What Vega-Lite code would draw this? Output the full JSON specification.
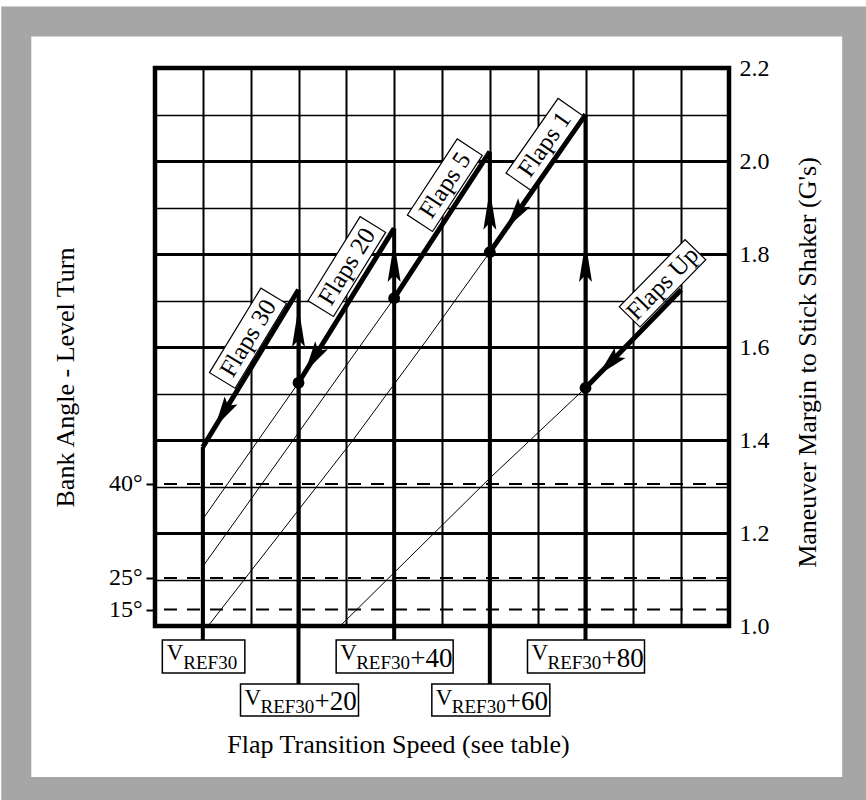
{
  "$schema": "https://vega.github.io/schema/vega-lite/v6.json",
  "width": 574,
  "height": 558,
  "autosize": {"type": "none"},
  "padding": {"left": 155, "top": 68, "right": 137, "bottom": 174},
  "background": "white",
  "config": {
    "font": "Liberation Serif",
    "text": {"font": "Liberation Serif", "color": "black"},
    "view": {"stroke": "black", "strokeWidth": 4.5},
    "axis": {
      "labelColor": "black", "titleColor": "black", "titleFontWeight": "normal",
      "titleFontSize": 26, "labelFontSize": 24, "labelFont": "Liberation Serif", "titleFont": "Liberation Serif"
    }
  },
  "datasets": {
    "flapLines": [
      {"flap": "Flaps 30", "part": "thick", "v": 0, "g": 1.385},
      {"flap": "Flaps 30", "part": "thick", "v": 20, "g": 1.723},
      {"flap": "Flaps 20", "part": "thick", "v": 20, "g": 1.523},
      {"flap": "Flaps 20", "part": "thick", "v": 40, "g": 1.855},
      {"flap": "Flaps 5", "part": "thick", "v": 40, "g": 1.705},
      {"flap": "Flaps 5", "part": "thick", "v": 60, "g": 2.02},
      {"flap": "Flaps 1", "part": "thick", "v": 60, "g": 1.804},
      {"flap": "Flaps 1", "part": "thick", "v": 80, "g": 2.10},
      {"flap": "Flaps Up", "part": "thick", "v": 80, "g": 1.512},
      {"flap": "Flaps Up", "part": "thick", "v": 100, "g": 1.723},
      {"flap": "Flaps 20", "part": "thin", "v": 0, "g": 1.23},
      {"flap": "Flaps 20", "part": "thin", "v": 20, "g": 1.523},
      {"flap": "Flaps 5", "part": "thin", "v": 0, "g": 1.128},
      {"flap": "Flaps 5", "part": "thin", "v": 18.9, "g": 1.40},
      {"flap": "Flaps 5", "part": "thin", "v": 40, "g": 1.705},
      {"flap": "Flaps 1", "part": "thin", "v": 1.1, "g": 1.0},
      {"flap": "Flaps 1", "part": "thin", "v": 31.4, "g": 1.40},
      {"flap": "Flaps 1", "part": "thin", "v": 46.8, "g": 1.615},
      {"flap": "Flaps 1", "part": "thin", "v": 60, "g": 1.804},
      {"flap": "Flaps Up", "part": "thin", "v": 28.7, "g": 1.0},
      {"flap": "Flaps Up", "part": "thin", "v": 60, "g": 1.318},
      {"flap": "Flaps Up", "part": "thin", "v": 80, "g": 1.512}
    ],
    "dots": [
      {"flap": "Flaps 20", "v": 20, "g": 1.523},
      {"flap": "Flaps 5", "v": 40, "g": 1.705},
      {"flap": "Flaps 1", "v": 60, "g": 1.804},
      {"flap": "Flaps Up", "v": 80, "g": 1.512}
    ],
    "speeds": [
      {"v": 0, "suffix": "", "row": "high", "top": 1.385, "arrow": null},
      {"v": 20, "suffix": "+20", "row": "low", "top": 1.723, "arrow": 1.686},
      {"v": 40, "suffix": "+40", "row": "high", "top": 1.855, "arrow": 1.826},
      {"v": 60, "suffix": "+60", "row": "low", "top": 2.02, "arrow": 1.938},
      {"v": 80, "suffix": "+80", "row": "high", "top": 2.10, "arrow": 1.826}
    ],
    "labels": [
      {"flap": "Flaps 30", "v": 9.44, "g": 1.619, "tipV": 2.54, "tipG": 1.428},
      {"flap": "Flaps 20", "v": 30.1, "g": 1.773, "tipV": 21.4, "tipG": 1.547},
      {"flap": "Flaps 5", "v": 50.6, "g": 1.948},
      {"flap": "Flaps 1", "v": 71.4, "g": 2.036, "tipV": 63.5, "tipG": 1.856},
      {"flap": "Flaps Up", "v": 96.1, "g": 1.737, "tipV": 82.7, "tipG": 1.54}
    ],
    "bank": [
      {"bank": 15, "g": 1.0353},
      {"bank": 25, "g": 1.1034},
      {"bank": 40, "g": 1.3054}
    ]
  },
  "layer": [
    {
      "data": {"values": [{}]},
      "mark": {"type": "rect", "filled": false, "stroke": "#a6a6a6", "strokeWidth": 30, "opacity": 1},
      "encoding": {
        "x": {"datum": -39, "axis": null},
        "x2": {"datum": 136.8},
        "y": {"datum": 2.30, "axis": null},
        "y2": {"datum": 0.643}
      }
    },
    {
      "data": {"name": "bank"},
      "mark": {"type": "rule", "strokeDash": [13, 10], "strokeWidth": 2, "color": "black"},
      "encoding": {
        "y": {
          "field": "g", "type": "quantitative",
          "scale": {"domain": [1, 2.2], "nice": false, "zero": false},
          "axis": {
            "orient": "left", "values": [1.0353, 1.1034, 1.3054],
            "labelExpr": "format(acos(1 / datum.value) * 180 / PI, '.0f') + '°'",
            "grid": false, "domain": false, "tickSize": 9, "tickWidth": 2, "tickColor": "black",
            "labelPadding": 4, "labelOverlap": false,
            "title": "Bank Angle - Level Turn", "titlePadding": 30, "titleY": 309
          }
        }
      }
    },
    {
      "data": {"name": "flapLines"},
      "transform": [{"filter": "datum.part == 'thin'"}],
      "mark": {"type": "line", "strokeWidth": 1, "color": "black"},
      "encoding": {
        "x": {
          "field": "v", "type": "quantitative",
          "scale": {"domain": [-10, 110], "nice": false, "zero": false},
          "axis": {
            "orient": "bottom",
            "values": [-10, 0, 10, 20, 30, 40, 50, 60, 70, 80, 90, 100, 110],
            "labels": false, "ticks": false, "domain": false,
            "grid": true, "gridColor": "black", "gridWidth": 2, "gridOpacity": 1,
            "title": "Flap Transition Speed (see table)", "titlePadding": 105, "titleX": 243
          }
        },
        "y": {
          "field": "g", "type": "quantitative",
          "scale": {"domain": [1, 2.2], "nice": false, "zero": false},
          "axis": {
            "orient": "right",
            "values": [1.0, 1.1, 1.2, 1.3, 1.4, 1.5, 1.6, 1.7, 1.8, 1.9, 2.0, 2.1, 2.2],
            "labelExpr": "round(datum.value * 10) % 2 == 0 ? format(datum.value, '.1f') : ''",
            "ticks": false, "domain": false, "labelPadding": 10, "labelOverlap": false,
            "grid": true, "gridColor": "black", "gridOpacity": 1,
            "gridWidth": {"condition": {"test": "round(datum.value * 10) % 2 == 0", "value": 3}, "value": 1.5},
            "title": "Maneuver Margin to Stick Shaker (G's)",
            "titleAngle": 270, "titleBaseline": "top", "titlePadding": 25, "titleY": 294
          }
        },
        "detail": {"field": "flap"}
      }
    },
    {
      "data": {"name": "flapLines"},
      "transform": [{"filter": "datum.part == 'thick'"}],
      "mark": {"type": "line", "strokeWidth": 5, "color": "black"},
      "encoding": {
        "x": {"field": "v", "type": "quantitative", "axis": null},
        "y": {"field": "g", "type": "quantitative", "axis": null},
        "detail": {"field": "flap"}
      }
    },
    {
      "data": {"name": "speeds"},
      "transform": [{"filter": "datum.v == 0"}],
      "encoding": {"x": {"field": "v", "type": "quantitative", "axis": null}},
      "layer": [
        {
          "mark": {"type": "rule", "strokeWidth": 4, "color": "black", "y2Offset": 14},
          "encoding": {"y": {"field": "top", "type": "quantitative", "axis": null}, "y2": {"datum": 1}}
        },
        {
          "mark": {"type": "rect", "fill": "white", "stroke": "black", "strokeWidth": 1.5, "xOffset": -40.5, "x2Offset": 42, "yOffset": 14, "y2Offset": 47},
          "encoding": {"x2": {"field": "v"}, "y": {"datum": 1, "axis": null}, "y2": {"datum": 1}}
        },
        {
          "mark": {"type": "text", "text": "V", "font": "Liberation Serif", "fontSize": 23, "align": "left", "baseline": "alphabetic", "dx": -36, "dy": 34},
          "encoding": {"y": {"datum": 1, "axis": null}}
        },
        {
          "mark": {"type": "text", "text": "REF30", "font": "Liberation Serif", "fontSize": 19, "align": "left", "baseline": "alphabetic", "dx": -19.5, "dy": 43},
          "encoding": {"y": {"datum": 1, "axis": null}}
        }
      ]
    },
    {
      "data": {"name": "speeds"},
      "transform": [{"filter": "datum.row == 'high' && datum.v > 0"}],
      "encoding": {"x": {"field": "v", "type": "quantitative", "axis": null}},
      "layer": [
        {
          "mark": {"type": "rule", "strokeWidth": 4, "color": "black", "y2Offset": 14},
          "encoding": {"y": {"field": "top", "type": "quantitative", "axis": null}, "y2": {"datum": 1}}
        },
        {
          "mark": {"type": "rect", "fill": "white", "stroke": "black", "strokeWidth": 1.5, "xOffset": -58, "x2Offset": 59, "yOffset": 14, "y2Offset": 47},
          "encoding": {"x2": {"field": "v"}, "y": {"datum": 1, "axis": null}, "y2": {"datum": 1}}
        },
        {
          "mark": {"type": "text", "text": "V", "font": "Liberation Serif", "fontSize": 23, "align": "left", "baseline": "alphabetic", "dx": -54, "dy": 34},
          "encoding": {"y": {"datum": 1, "axis": null}}
        },
        {
          "mark": {"type": "text", "text": "REF30", "font": "Liberation Serif", "fontSize": 19, "align": "left", "baseline": "alphabetic", "dx": -38, "dy": 43},
          "encoding": {"y": {"datum": 1, "axis": null}}
        },
        {
          "mark": {"type": "text", "font": "Liberation Serif", "fontSize": 27, "align": "left", "baseline": "alphabetic", "dx": 16, "dy": 41},
          "encoding": {"y": {"datum": 1, "axis": null}, "text": {"field": "suffix"}}
        }
      ]
    },
    {
      "data": {"name": "speeds"},
      "transform": [{"filter": "datum.row == 'low'"}],
      "encoding": {"x": {"field": "v", "type": "quantitative", "axis": null}},
      "layer": [
        {
          "mark": {"type": "rule", "strokeWidth": 4, "color": "black", "y2Offset": 58},
          "encoding": {"y": {"field": "top", "type": "quantitative", "axis": null}, "y2": {"datum": 1}}
        },
        {
          "mark": {"type": "rect", "fill": "white", "stroke": "black", "strokeWidth": 1.5, "xOffset": -58, "x2Offset": 60, "yOffset": 58, "y2Offset": 90},
          "encoding": {"x2": {"field": "v"}, "y": {"datum": 1, "axis": null}, "y2": {"datum": 1}}
        },
        {
          "mark": {"type": "text", "text": "V", "font": "Liberation Serif", "fontSize": 23, "align": "left", "baseline": "alphabetic", "dx": -54, "dy": 79},
          "encoding": {"y": {"datum": 1, "axis": null}}
        },
        {
          "mark": {"type": "text", "text": "REF30", "font": "Liberation Serif", "fontSize": 19, "align": "left", "baseline": "alphabetic", "dx": -38, "dy": 87},
          "encoding": {"y": {"datum": 1, "axis": null}}
        },
        {
          "mark": {"type": "text", "font": "Liberation Serif", "fontSize": 27, "align": "left", "baseline": "alphabetic", "dx": 16, "dy": 84},
          "encoding": {"y": {"datum": 1, "axis": null}, "text": {"field": "suffix"}}
        }
      ]
    },
    {
      "data": {"name": "speeds"},
      "transform": [{"filter": "datum.arrow != null"}],
      "mark": {"type": "point", "shape": "M0,0L6.5,40L0,33L-6.5,40Z", "size": 4, "filled": true, "color": "black", "opacity": 1},
      "encoding": {
        "x": {"field": "v", "type": "quantitative", "axis": null},
        "y": {"field": "arrow", "type": "quantitative", "axis": null}
      }
    },
    {
      "data": {"name": "dots"},
      "mark": {"type": "point", "shape": "circle", "size": 140, "filled": true, "color": "black", "opacity": 1},
      "encoding": {
        "x": {"field": "v", "type": "quantitative", "axis": null},
        "y": {"field": "g", "type": "quantitative", "axis": null}
      }
    },
    {
      "data": {"name": "labels"},
      "transform": [{"filter": "datum.flap == 'Flaps 30'"}],
      "encoding": {
        "x": {"field": "v", "type": "quantitative", "axis": null},
        "y": {"field": "g", "type": "quantitative", "axis": null}
      },
      "layer": [
        {"mark": {"type": "point", "shape": "M-49.5,-15H49.5V15H-49.5Z", "size": 4, "angle": 301.3, "filled": true, "fill": "white", "stroke": "black", "strokeWidth": 1.2, "opacity": 1}},
        {"mark": {"type": "text", "angle": 301.3, "font": "Liberation Serif", "fontSize": 25, "align": "center", "baseline": "middle"}, "encoding": {"text": {"field": "flap"}}},
        {
          "mark": {"type": "point", "shape": "M0,0L7.5,31L0,25L-7.5,31Z", "size": 4, "angle": 211.3, "filled": true, "color": "black", "opacity": 1},
          "encoding": {"x": {"field": "tipV", "type": "quantitative", "axis": null}, "y": {"field": "tipG", "type": "quantitative", "axis": null}}
        }
      ]
    },
    {
      "data": {"name": "labels"},
      "transform": [{"filter": "datum.flap == 'Flaps 20'"}],
      "encoding": {
        "x": {"field": "v", "type": "quantitative", "axis": null},
        "y": {"field": "g", "type": "quantitative", "axis": null}
      },
      "layer": [
        {"mark": {"type": "point", "shape": "M-49.5,-15H49.5V15H-49.5Z", "size": 4, "angle": 301.8, "filled": true, "fill": "white", "stroke": "black", "strokeWidth": 1.2, "opacity": 1}},
        {"mark": {"type": "text", "angle": 301.8, "font": "Liberation Serif", "fontSize": 25, "align": "center", "baseline": "middle"}, "encoding": {"text": {"field": "flap"}}},
        {
          "mark": {"type": "point", "shape": "M0,0L7.5,31L0,25L-7.5,31Z", "size": 4, "angle": 211.8, "filled": true, "color": "black", "opacity": 1},
          "encoding": {"x": {"field": "tipV", "type": "quantitative", "axis": null}, "y": {"field": "tipG", "type": "quantitative", "axis": null}}
        }
      ]
    },
    {
      "data": {"name": "labels"},
      "transform": [{"filter": "datum.flap == 'Flaps 5'"}],
      "encoding": {
        "x": {"field": "v", "type": "quantitative", "axis": null},
        "y": {"field": "g", "type": "quantitative", "axis": null}
      },
      "layer": [
        {"mark": {"type": "point", "shape": "M-45.5,-15H45.5V15H-45.5Z", "size": 4, "angle": 303.2, "filled": true, "fill": "white", "stroke": "black", "strokeWidth": 1.2, "opacity": 1}},
        {"mark": {"type": "text", "angle": 303.2, "font": "Liberation Serif", "fontSize": 25, "align": "center", "baseline": "middle"}, "encoding": {"text": {"field": "flap"}}}
      ]
    },
    {
      "data": {"name": "labels"},
      "transform": [{"filter": "datum.flap == 'Flaps 1'"}],
      "encoding": {
        "x": {"field": "v", "type": "quantitative", "axis": null},
        "y": {"field": "g", "type": "quantitative", "axis": null}
      },
      "layer": [
        {"mark": {"type": "point", "shape": "M-45.5,-15H45.5V15H-45.5Z", "size": 4, "angle": 304.9, "filled": true, "fill": "white", "stroke": "black", "strokeWidth": 1.2, "opacity": 1}},
        {"mark": {"type": "text", "angle": 304.9, "font": "Liberation Serif", "fontSize": 25, "align": "center", "baseline": "middle"}, "encoding": {"text": {"field": "flap"}}},
        {
          "mark": {"type": "point", "shape": "M0,0L7.5,31L0,25L-7.5,31Z", "size": 4, "angle": 214.9, "filled": true, "color": "black", "opacity": 1},
          "encoding": {"x": {"field": "tipV", "type": "quantitative", "axis": null}, "y": {"field": "tipG", "type": "quantitative", "axis": null}}
        }
      ]
    },
    {
      "data": {"name": "labels"},
      "transform": [{"filter": "datum.flap == 'Flaps Up'"}],
      "encoding": {
        "x": {"field": "v", "type": "quantitative", "axis": null},
        "y": {"field": "g", "type": "quantitative", "axis": null}
      },
      "layer": [
        {"mark": {"type": "point", "shape": "M-47,-14.5H47V14.5H-47Z", "size": 4, "angle": 314.4, "filled": true, "fill": "white", "stroke": "black", "strokeWidth": 1.2, "opacity": 1}},
        {"mark": {"type": "text", "angle": 314.4, "font": "Liberation Serif", "fontSize": 25, "align": "center", "baseline": "middle"}, "encoding": {"text": {"field": "flap"}}},
        {
          "mark": {"type": "point", "shape": "M0,0L7.5,31L0,25L-7.5,31Z", "size": 4, "angle": 224.4, "filled": true, "color": "black", "opacity": 1},
          "encoding": {"x": {"field": "tipV", "type": "quantitative", "axis": null}, "y": {"field": "tipG", "type": "quantitative", "axis": null}}
        }
      ]
    }
  ],
  "resolve": {"axis": {"x": "independent", "y": "independent"}}
}
